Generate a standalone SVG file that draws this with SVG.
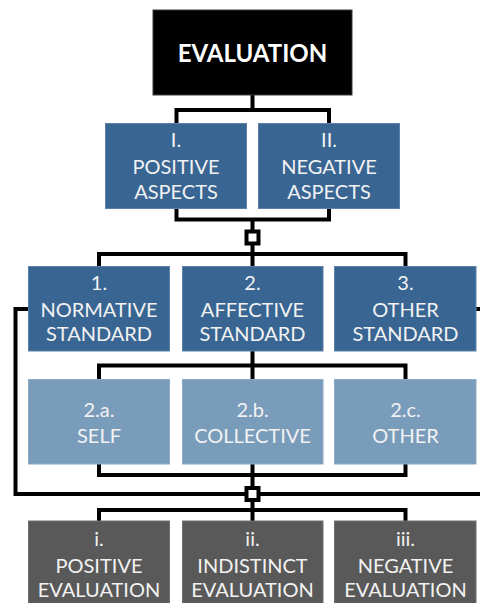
<svg xmlns="http://www.w3.org/2000/svg" width="480" height="603" viewBox="0 0 480 603">
<style>
.t{font-family:Lato,"Open Sans","Liberation Sans",sans-serif;font-size:20px;fill:#f2f2f2;text-anchor:middle}
.top{font-family:Lato,"Open Sans","Liberation Sans",sans-serif;font-size:24px;font-weight:bold;fill:#ffffff;text-anchor:middle}
.c{fill:none;stroke:#000;stroke-width:4}
.d{fill:#386592;stroke:#5a80a8;stroke-width:1}
.l{fill:#7a9cbb;stroke:#8eabc6;stroke-width:1}
.g{fill:#595959;stroke:#707070;stroke-width:1}
.sq{fill:#fff;stroke:#000;stroke-width:4}
</style>
<rect width="480" height="603" fill="#fff"/>
<g id="connectors">
<path class="c" d="M252.5,95 V110 M176.5,123 V110 H329 V123"/>
<path class="c" d="M176.5,209 V219.5 H329 V209 M252.5,219.5 V266.5"/>
<path class="c" d="M99,266.5 V254 H405.5 V266.5"/>
<path class="c" d="M252.5,351 V379.5 M99,379.5 V365.5 H405.5 V379.5"/>
<path class="c" d="M99,464 V475 H405.5 V464 M252.5,464 V521"/>
<path class="c" d="M28,309 H15.5 V494 H489 V309 H476"/>
<path class="c" d="M99,521 V510 H405.5 V521"/>
<rect class="sq" x="246.5" y="231.5" width="12" height="12"/>
<rect class="sq" x="246.5" y="488" width="12" height="12"/>
</g>
<g id="evaluation"><rect x="153" y="10" width="199" height="85" fill="#000" stroke="#3a3a3a" stroke-width="1"/><text class="top" x="252.5" y="62">EVALUATION</text></g>
<g id="positive-aspects"><rect class="d" x="105.5" y="123.5" width="141" height="85"/><text class="t" x="176" y="147">I.</text><text class="t" x="176" y="174">POSITIVE</text><text class="t" x="176" y="199">ASPECTS</text></g>
<g id="negative-aspects"><rect class="d" x="258.5" y="123.5" width="141" height="85"/><text class="t" x="329" y="147">II.</text><text class="t" x="329" y="174">NEGATIVE</text><text class="t" x="329" y="199">ASPECTS</text></g>
<g id="normative"><rect class="d" x="28.5" y="266.5" width="141" height="84.5"/><text class="t" x="99" y="290">1.</text><text class="t" x="99" y="316.5">NORMATIVE</text><text class="t" x="99" y="341">STANDARD</text></g>
<g id="affective"><rect class="d" x="182.5" y="266.5" width="140.5" height="84.5"/><text class="t" x="252.5" y="290">2.</text><text class="t" x="252.5" y="316.5">AFFECTIVE</text><text class="t" x="252.5" y="341">STANDARD</text></g>
<g id="other-standard"><rect class="d" x="334.5" y="266.5" width="141.5" height="84.5"/><text class="t" x="405.5" y="290">3.</text><text class="t" x="405.5" y="316.5">OTHER</text><text class="t" x="405.5" y="341">STANDARD</text></g>
<g id="self"><rect class="l" x="28.5" y="379.5" width="141" height="84.5"/><text class="t" x="99" y="416.5">2.a.</text><text class="t" x="99" y="442.5">SELF</text></g>
<g id="collective"><rect class="l" x="182.5" y="379.5" width="140.5" height="84.5"/><text class="t" x="252.5" y="416.5">2.b.</text><text class="t" x="252.5" y="442.5">COLLECTIVE</text></g>
<g id="other"><rect class="l" x="334.5" y="379.5" width="141.5" height="84.5"/><text class="t" x="405.5" y="416.5">2.c.</text><text class="t" x="405.5" y="442.5">OTHER</text></g>
<g id="positive-evaluation"><rect class="g" x="28.5" y="521" width="141" height="90"/><text class="t" x="99" y="546">i.</text><text class="t" x="99" y="572.5">POSITIVE</text><text class="t" x="99" y="597">EVALUATION</text></g>
<g id="indistinct-evaluation"><rect class="g" x="182.5" y="521" width="140.5" height="90"/><text class="t" x="252.5" y="546">ii.</text><text class="t" x="252.5" y="572.5">INDISTINCT</text><text class="t" x="252.5" y="597">EVALUATION</text></g>
<g id="negative-evaluation"><rect class="g" x="334.5" y="521" width="141.5" height="90"/><text class="t" x="405.5" y="546">iii.</text><text class="t" x="405.5" y="572.5">NEGATIVE</text><text class="t" x="405.5" y="597">EVALUATION</text></g>
</svg>
